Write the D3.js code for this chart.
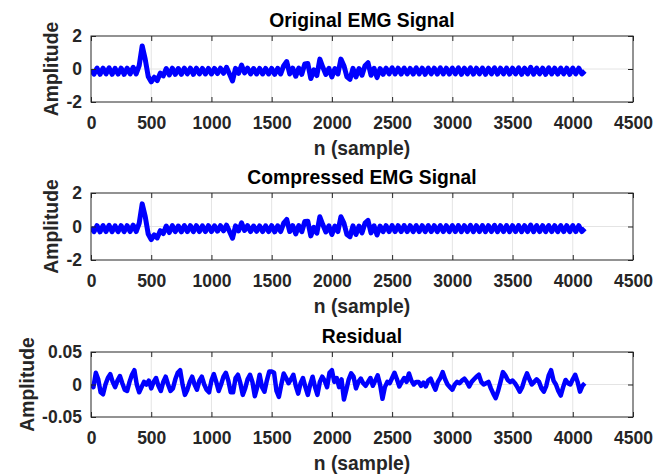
<!DOCTYPE html>
<html>
<head>
<meta charset="utf-8">
<script src="https://cdn.jsdelivr.net/npm/d3@7"></script>
<style>
  body { margin: 0; background: #fff; }
  svg { display: block; }
  text { font-family: "Liberation Sans", Arial, sans-serif; font-weight: bold; }
</style>
</head>
<body>
<div id="chart"></div>
<script>
// axis ticks
const xTicks = [0, 500, 1000, 1500, 2000, 2500, 3000, 3500, 4000, 4500];
const ampTicks = [-2, 0, 2];
const resTicks = [-0.05, 0, 0.05];
const resTickLabels = ['-0.05', '0', '0.05'];

// signal samples, one value every 25 samples (0..4100)
const originalSignal = [
    -0.05, -0.31, 0.06, -0.32, 0.05, -0.3, 0.07, -0.32,
    0.04, -0.31, 0.05, -0.32, 0.05, -0.3, 0.1, -0.3,
    0.2, 1.4, 0.6, -0.45, -0.78, -0.5, -0.7, -0.25,
    -0.42, 0.03, -0.36, 0.05, -0.32, 0.03, -0.32, 0.05,
    -0.3, 0.05, -0.32, 0.05, -0.3, 0.04, -0.3, 0.04,
    -0.3, 0.04, -0.28, 0.05, -0.26, 0.1, -0.3, -0.72,
    0.04, -0.26, 0.24, -0.24, 0.05, -0.3, 0.03, -0.3,
    0.04, -0.3, 0.04, -0.3, 0.04, -0.32, 0.04, -0.3,
    0.2, 0.45, -0.3, 0.05, -0.44, 0.05, -0.32, 0.3,
    0.33, -0.58, -0.05, -0.4, 0.6, 0.1, -0.33, 0.04,
    -0.48, 0.03, -0.3, 0.6, 0.2, -0.48, -0.63, 0.04,
    -0.48, 0.03, -0.38, 0.2, 0.38, -0.38, 0.04, -0.52,
    0.03, -0.32, 0.05, -0.3, 0.07, -0.3, 0.05, -0.31,
    0.06, -0.3, 0.04, -0.31, 0.07, -0.3, 0.05, -0.32,
    0.06, -0.3, 0.05, -0.31, 0.07, -0.3, 0.05, -0.31,
    0.06, -0.3, 0.07, -0.32, 0.05, -0.3, 0.07, -0.31,
    0.05, -0.3, 0.06, -0.32, 0.05, -0.3, 0.07, -0.31,
    0.05, -0.3, 0.06, -0.31, 0.05, -0.3, 0.07, -0.32,
    0.05, -0.3, 0.1, -0.31, 0.06, -0.3, 0.05, -0.32,
    0.07, -0.3, 0.05, -0.31, 0.06, -0.3, 0.05, -0.32,
    0.06, -0.3, 0.05, -0.3, -0.12
];

const compressedSignal = [
    -0.05, -0.31, 0.05, -0.32, 0.06, -0.3, 0.07, -0.31,
    0.04, -0.31, 0.05, -0.31, 0.05, -0.3, 0.08, -0.3,
    0.19, 1.35, 0.6, -0.45, -0.78, -0.5, -0.68, -0.25,
    -0.42, 0.03, -0.36, 0.05, -0.31, 0.03, -0.32, 0.06,
    -0.3, 0.05, -0.31, 0.05, -0.3, 0.04, -0.3, 0.05,
    -0.3, 0.04, -0.28, 0.05, -0.26, 0.08, -0.3, -0.7,
    0.04, -0.26, 0.22, -0.24, 0.05, -0.3, 0.03, -0.29,
    0.04, -0.3, 0.04, -0.3, 0.05, -0.32, 0.04, -0.3,
    0.2, 0.42, -0.3, 0.05, -0.44, 0.05, -0.31, 0.3,
    0.31, -0.56, -0.05, -0.4, 0.58, 0.1, -0.33, 0.04,
    -0.48, 0.03, -0.3, 0.58, 0.2, -0.48, -0.61, 0.04,
    -0.48, 0.03, -0.38, 0.2, 0.36, -0.38, 0.04, -0.51,
    0.03, -0.31, 0.05, -0.3, 0.06, -0.3, 0.05, -0.3,
    0.06, -0.3, 0.05, -0.31, 0.06, -0.3, 0.05, -0.31,
    0.06, -0.3, 0.05, -0.31, 0.06, -0.3, 0.05, -0.31,
    0.06, -0.3, 0.06, -0.31, 0.05, -0.3, 0.07, -0.31,
    0.05, -0.3, 0.06, -0.31, 0.05, -0.3, 0.07, -0.31,
    0.05, -0.3, 0.06, -0.31, 0.05, -0.3, 0.06, -0.31,
    0.05, -0.3, 0.09, -0.31, 0.06, -0.3, 0.05, -0.31,
    0.06, -0.3, 0.05, -0.31, 0.06, -0.3, 0.05, -0.31,
    0.06, -0.3, 0.05, -0.3, -0.12
];

// residual, one value every 20 samples (0..4100)
const residualSignal = [
    0.0, -0.004, 0.018, 0.008, -0.012, -0.015, 0.0, 0.010, 0.016, 0.004,
    -0.004, 0.006, 0.013, 0.002, -0.008, -0.010, 0.004, 0.015, 0.022, 0.0,
    -0.012, -0.004, 0.004, 0.0, 0.006, -0.006, 0.004, 0.010, -0.002, -0.010,
    0.004, 0.012, 0.0, -0.010, -0.006, 0.008, 0.018, 0.022, 0.0, -0.016,
    -0.008, 0.004, 0.012, 0.0, -0.008, 0.006, 0.012, 0.0, -0.008, -0.012,
    0.006, 0.016, 0.004, -0.010, 0.0, 0.012, 0.018, 0.006, -0.012, -0.012,
    0.010, 0.015, 0.002, -0.016, -0.006, 0.008, 0.015, 0.004, -0.018, -0.004,
    0.015, -0.004, -0.011, 0.006, 0.020, 0.020, 0.018, -0.010, -0.019, 0.0,
    0.017, 0.010, 0.002, 0.008, 0.015, -0.002, -0.014, 0.002, 0.010, -0.004,
    -0.016, 0.0, 0.012, -0.004, -0.016, 0.004, 0.012, 0.006, -0.004, 0.018,
    0.022, 0.004, 0.010, -0.004, 0.008, -0.023, -0.008, 0.008, 0.017, 0.012,
    -0.006, 0.004, 0.009, 0.002, -0.002, 0.004, 0.010, -0.002, 0.006, 0.014,
    0.0, -0.022, -0.004, 0.004, 0.002, 0.010, 0.018, 0.008, -0.003, 0.004,
    0.010, 0.004, 0.017, 0.006, 0.0, 0.004, 0.004, -0.002, 0.003, -0.003,
    0.006, 0.009, 0.0, -0.008, 0.004, 0.010, 0.019, 0.008, 0.0, -0.004,
    -0.008, 0.0, 0.004, 0.002, 0.006, 0.009, 0.004, -0.003, 0.004, 0.008,
    0.012, 0.015, 0.004, 0.0, 0.002, 0.004, -0.006, -0.014, -0.021, -0.010,
    0.004, 0.019, 0.014, 0.007, 0.004, 0.006, 0.002, -0.004, -0.011, -0.004,
    0.008, 0.017, 0.008, 0.0, 0.004, 0.008, 0.004, -0.006, -0.011, -0.002,
    0.014, 0.022, 0.006, 0.0, -0.010, -0.017, -0.004, 0.007, 0.002, 0.0,
    0.008, 0.015, 0.004, -0.011, -0.002, 0.002
];

const width = 655;
const height = 475;
const left = 91, right = 633;
const tickLen = 5;
const axisColor = '#262626';

const svg = d3.select('#chart')
    .append('svg')
    .attr('width', width)
    .attr('height', height);

const x = d3.scaleLinear().domain([0, 4500]).range([left, right]);

const panels = [
    { title: 'Original EMG Signal', top: 36, bottom: 102, data: originalSignal, step: 25, lw: 5,
      domain: [-2, 2], ticks: ampTicks, labels: ampTicks.map(String), ylabelX: 58 },
    { title: 'Compressed EMG Signal', top: 193, bottom: 260, data: compressedSignal, step: 25, lw: 5,
      domain: [-2, 2], ticks: ampTicks, labels: ampTicks.map(String), ylabelX: 58 },
    { title: 'Residual', top: 352, bottom: 417, data: residualSignal, step: 20, lw: 4.5,
      domain: [-0.05, 0.05], ticks: resTicks, labels: resTickLabels, ylabelX: 34 }
];

panels.forEach((p, k) => {
    const y = d3.scaleLinear().domain(p.domain).range([p.bottom, p.top]);
    const g = svg.append('g');

    // сетка
    g.append('g')
        .selectAll('line.gx')
        .data(xTicks.slice(1, -1))
        .enter().append('line')
        .attr('x1', d => x(d)).attr('x2', d => x(d))
        .attr('y1', p.top).attr('y2', p.bottom)
        .attr('stroke', '#e4e4e4').attr('stroke-width', 1);
    g.append('g')
        .selectAll('line.gy')
        .data(p.ticks.slice(1, -1))
        .enter().append('line')
        .attr('x1', left).attr('x2', right)
        .attr('y1', d => y(d)).attr('y2', d => y(d))
        .attr('stroke', '#e4e4e4').attr('stroke-width', 1);

    // сигнал
    const clipId = 'clip' + k;
    svg.append('clipPath').attr('id', clipId)
        .append('rect')
        .attr('x', left).attr('y', p.top)
        .attr('width', right - left).attr('height', p.bottom - p.top);

    const line = d3.line()
        .x((d, i) => x(i * p.step))
        .y(d => y(d));

    g.append('path')
        .datum(p.data)
        .attr('clip-path', `url(#${clipId})`)
        .attr('fill', 'none')
        .attr('stroke', '#0000ff')
        .attr('stroke-width', p.lw)
        .attr('stroke-linejoin', 'round')
        .attr('d', line);

    // оси
    g.append('g')
        .attr('transform', `translate(0,${p.bottom})`)
        .call(d3.axisBottom(x).tickValues(xTicks).tickSizeInner(-tickLen).tickSizeOuter(0)
            .tickPadding(14.5).tickFormat(d3.format('d')));
    g.append('g')
        .attr('transform', `translate(0,${p.top})`)
        .call(d3.axisTop(x).tickValues(xTicks).tickSizeInner(-tickLen).tickSizeOuter(0).tickFormat(''));
    g.append('g')
        .attr('transform', `translate(${left},0)`)
        .call(d3.axisLeft(y).tickValues(p.ticks).tickSizeInner(-tickLen).tickSizeOuter(0)
            .tickPadding(9).tickFormat((d, i) => p.labels[i]));
    g.append('g')
        .attr('transform', `translate(${right},0)`)
        .call(d3.axisRight(y).tickValues(p.ticks).tickSizeInner(-tickLen).tickSizeOuter(0).tickFormat(''));

    g.selectAll('.domain').remove();
    g.selectAll('.tick line').attr('stroke', axisColor);
    g.selectAll('.tick text')
        .attr('fill', axisColor)
        .style('font-size', '17.5px')
        .style('font-family', '"Liberation Sans", Arial, sans-serif')
        .style('font-weight', 'bold');

    // рамка
    g.append('rect')
        .attr('x', left).attr('y', p.top)
        .attr('width', right - left).attr('height', p.bottom - p.top)
        .attr('fill', 'none')
        .attr('stroke', axisColor)
        .attr('stroke-width', 1);

    // подписи
    g.append('text')
        .attr('x', (left + right) / 2)
        .attr('y', p.top - 9)
        .attr('text-anchor', 'middle')
        .attr('fill', '#000')
        .style('font-size', '19.3px')
        .text(p.title);

    g.append('text')
        .attr('x', (left + right) / 2)
        .attr('y', p.bottom + 53)
        .attr('text-anchor', 'middle')
        .attr('fill', axisColor)
        .style('font-size', '19.3px')
        .text('n (sample)');

    g.append('text')
        .attr('transform', `translate(${p.ylabelX},${(p.top + p.bottom) / 2}) rotate(-90)`)
        .attr('text-anchor', 'middle')
        .attr('fill', axisColor)
        .style('font-size', '19.3px')
        .text('Amplitude');
});
</script>
</body>
</html>
